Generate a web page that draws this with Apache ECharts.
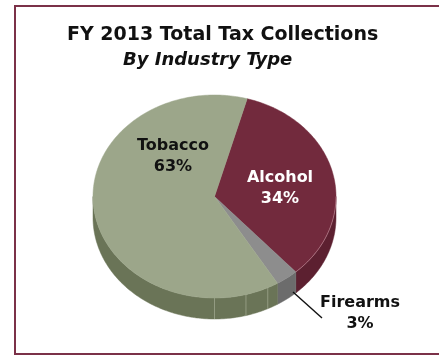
<!DOCTYPE html>
<html>
<head>
<meta charset="utf-8">
<script src="https://cdn.jsdelivr.net/npm/echarts@6/dist/echarts.min.js"></script>
<style>
  html, body { margin: 0; padding: 0; background: #ffffff; }
  #chart { width: 439px; height: 356px; }
</style>
</head>
<body>
<div id="chart"></div>
<script>
// FY 2013 tax collections, share of total by industry (percent)
const categories = ['Alcohol', 'Firearms', 'Tobacco'];
const shares = [34, 3, 63];

// Visual styling per category: top face, side wall, label colour
const topColors = { Alcohol: '#722a3d', Firearms: '#8d8d8d', Tobacco: '#9ca68a' };
const sideColors = { Alcohol: '#5c2030', Firearms: '#6c6c6c', Tobacco: '#6a7457' };
const labelColors = { Alcohol: '#ffffff', Firearms: '#111111', Tobacco: '#111111' };

// Label anchors (centre of the two-line label) and optional leader line
const labelLayout = {
  Alcohol: { x: 280, y: 188 },
  Firearms: { x: 360, y: 313, line: [[293, 292], [322, 318]] },
  Tobacco: { x: 173, y: 156 }
};

// Tilted pie geometry
const CX = 214.5, CY = 196.5, RX = 121.5, RY = 101.5, DEPTH = 21;
const START_DEG = 15.6; // first slice begins just right of the top

function pt(deg, dy) {
  const r = deg * Math.PI / 180;
  return [CX + RX * Math.sin(r), CY - RY * Math.cos(r) + (dy || 0)];
}
function arc(a, b, dy) {
  const pts = [];
  const n = Math.max(2, Math.ceil(Math.abs(b - a)));
  for (let i = 0; i <= n; i++) pts.push(pt(a + (b - a) * i / n, dy));
  return pts;
}

const total = shares.reduce((s, v) => s + v, 0);

function renderItem(params, api) {
  const idx = params.dataIndex;
  const name = categories[idx];
  const value = api.value(0);
  let before = 0;
  for (let i = 0; i < idx; i++) before += shares[i];
  const a0 = START_DEG + before / total * 360;
  const a1 = a0 + value / total * 360;
  const children = [];

  // Front wall: only the part facing the viewer (90..270 degrees, and 450..630)
  [[90, 270], [450, 630]].forEach(([lo, hi]) => {
    const s = Math.max(a0, lo), e = Math.min(a1, hi);
    if (e > s) {
      const top = arc(s, e, 0);
      const bottom = arc(e, s, DEPTH);
      children.push({
        type: 'polygon', z2: 1,
        shape: { points: top.concat(bottom) },
        style: { fill: sideColors[name], stroke: sideColors[name], lineWidth: 0.5 }
      });
      // facet seams on the wall
      [154, 165, 180].forEach(f => {
        if (f > s + 0.5 && f < e - 0.5) {
          const p = pt(f, 0), q = pt(f, DEPTH);
          children.push({
            type: 'line', z2: 2,
            shape: { x1: p[0], y1: p[1], x2: q[0], y2: q[1] },
            style: { stroke: 'rgba(200,206,185,0.55)', lineWidth: 0.8 }
          });
        }
      });
    }
  });

  // Top face
  children.push({
    type: 'polygon', z2: 10,
    shape: { points: [[CX, CY]].concat(arc(a0, a1, 0)) },
    style: { fill: topColors[name], stroke: topColors[name], lineWidth: 0.5 }
  });

  // Subtle rim highlight where the top meets the front wall of the maroon slice
  if (name === 'Alcohol') {
    const s = Math.max(a0, 90), e = Math.min(a1, 270);
    if (e > s) {
      children.push({
        type: 'polyline', z2: 11,
        shape: { points: arc(s, e, 0) },
        style: { stroke: 'rgba(255,210,220,0.45)', lineWidth: 0.8, fill: null }
      });
    }
  }

  // Label: name and percentage
  const lay = labelLayout[name];
  const pct = Math.round(value / total * 100) + '%';
  children.push({
    type: 'text', z2: 20,
    style: {
      x: lay.x, y: lay.y,
      text: name + '\n' + pct,
      align: 'center', verticalAlign: 'middle',
      fill: labelColors[name],
      font: 'bold 16px "DejaVu Sans", sans-serif',
      lineHeight: 21
    }
  });
  if (lay.line) {
    children.push({
      type: 'line', z2: 20,
      shape: { x1: lay.line[0][0], y1: lay.line[0][1], x2: lay.line[1][0], y2: lay.line[1][1] },
      style: { stroke: '#111111', lineWidth: 1.4 }
    });
  }

  return { type: 'group', children };
}

const chart = echarts.init(document.getElementById('chart'), null, { renderer: 'canvas' });
chart.setOption({
  animation: false,
  backgroundColor: '#ffffff',
  title: [
    {
      text: 'FY 2013 Total Tax Collections',
      left: 67, top: 26, padding: 0,
      textStyle: { fontFamily: 'DejaVu Sans', fontWeight: 'bold', fontSize: 19, color: '#111111' }
    },
    {
      text: 'By Industry Type',
      left: 123, top: 51, padding: 0,
      textStyle: { fontFamily: 'DejaVu Sans', fontWeight: 'bold', fontStyle: 'italic', fontSize: 18, color: '#111111' }
    }
  ],
  graphic: [
    {
      type: 'rect', z: -1,
      shape: { x: 15, y: 6, width: 440, height: 348 },
      style: { fill: null, stroke: '#7b3148', lineWidth: 2 }
    }
  ],
  series: [
    {
      type: 'custom',
      coordinateSystem: 'none',
      renderItem: renderItem,
      data: shares.map(v => [v])
    }
  ]
});
</script>
</body>
</html>
